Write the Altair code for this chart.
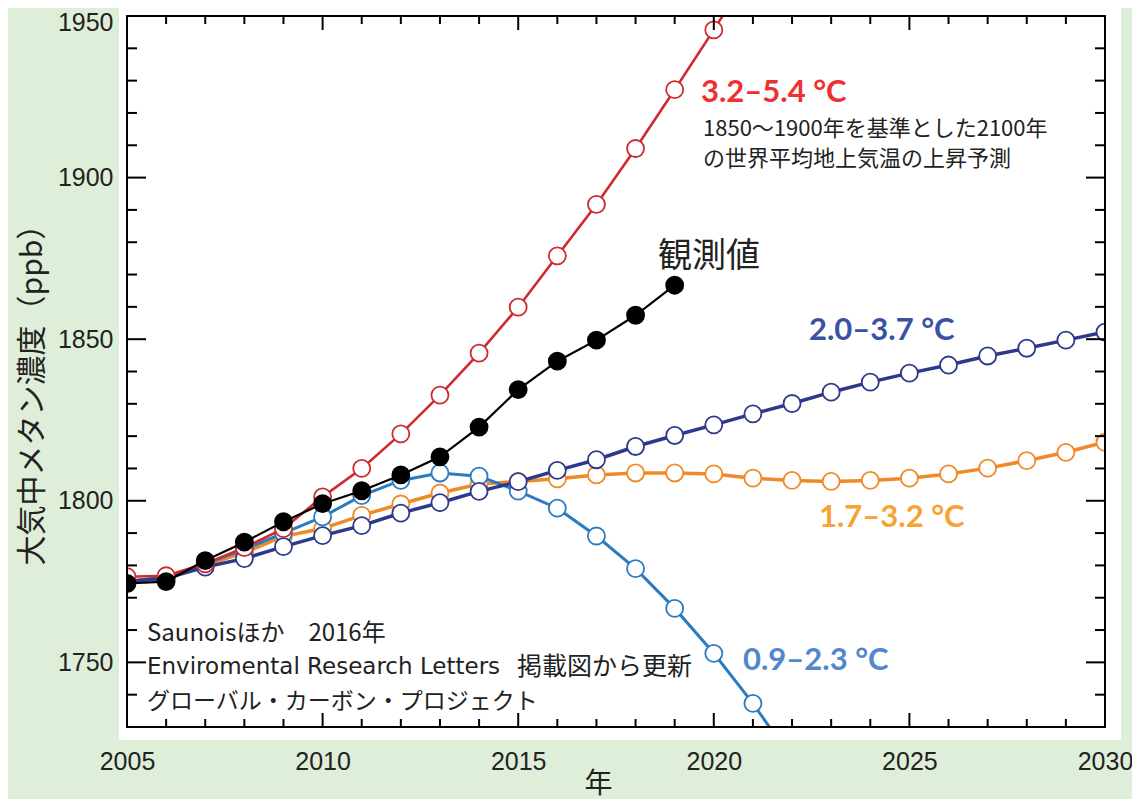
import altair as alt
import pandas as pd

# ---------------- data ----------------
years_obs = list(range(2005, 2020))
obs = [1774.4, 1775.0, 1781.5, 1787.2, 1793.5, 1799.1, 1803.1, 1808.0, 1813.6,
       1822.8, 1834.4, 1843.2, 1849.7, 1857.4, 1866.7]

years_red = list(range(2005, 2022))
red = [1776.5, 1776.8, 1780.5, 1785.5, 1791.4, 1801.2, 1810.0, 1820.7, 1832.7,
       1845.7, 1859.9, 1875.8, 1891.7, 1909.0, 1927.2, 1945.7, 1965.0]

years_navy = list(range(2005, 2031))
navy = [1775.0, 1776.0, 1779.5, 1782.1, 1785.8, 1789.2, 1792.3, 1796.2, 1799.4,
        1802.9, 1805.9, 1809.4, 1812.7, 1816.8, 1820.2, 1823.5, 1826.9, 1830.1,
        1833.6, 1836.7, 1839.5, 1842.0, 1844.8, 1847.2, 1849.7, 1852.2]

years_orange = list(range(2005, 2031))
orange = [1775.0, 1776.0, 1780.0, 1784.0, 1789.0, 1791.4, 1795.5, 1799.0, 1802.4,
          1805.2, 1806.0, 1806.8, 1808.0, 1808.6, 1808.6, 1808.3, 1807.0, 1806.3,
          1806.0, 1806.3, 1807.0, 1808.3, 1810.1, 1812.4, 1815.0, 1818.1]

years_lblue = list(range(2005, 2023))
lblue = [1775.0, 1776.5, 1780.5, 1785.0, 1790.0, 1795.0, 1801.6, 1806.3, 1808.6,
         1807.6, 1803.0, 1797.7, 1789.1, 1779.0, 1766.7, 1752.8, 1737.3, 1720.0]

x_major = [2005, 2010, 2015, 2020, 2025, 2030]
x_minor = [2006, 2007, 2008, 2009, 2011, 2012, 2013, 2014, 2016, 2017, 2018, 2019,
           2021, 2022, 2023, 2024, 2026, 2027, 2028, 2029]
y_major = [1750, 1800, 1850, 1900, 1950]
y_minor = [1740, 1760, 1770, 1780, 1790, 1810, 1820, 1830, 1840, 1860, 1870, 1880,
           1890, 1910, 1920, 1930, 1940]

label_red = "3.2–5.4 °C"
label_navy = "2.0–3.7 °C"
label_orange = "1.7–3.2 °C"
label_lblue = "0.9–2.3 °C"
note1 = "1850〜1900年を基準とした2100年"
note2 = "の世界平均地上気温の上昇予測"
obs_label = "観測値"
src1 = "Saunoisほか　2016年"
src2a = "Enviromental Research Letters"
src2b = "掲載図から更新"
src3 = "グローバル・カーボン・プロジェクト"

# ---------------- style ----------------
W, H = 978, 711
JP = "Noto Sans CJK JP"
NUM = "Liberation Sans"
LAT = "DejaVu Sans"
BOLD = "Lato"
BG = "#DFEED8"
TXT = "#222222"

xs = alt.Scale(domain=[2005, 2030], nice=False, zero=False)
ys = alt.Scale(domain=[1730, 1950], nice=False, zero=False)

xaxis = alt.Axis(values=x_major, format="d", ticks=False, domain=False, grid=False,
                 labelFlush=False, labelOverlap=False,
                 labelFont=NUM, labelFontSize=25, labelColor=TXT, labelPadding=22,
                 title="年", titleFont=JP, titleFontSize=28, titleFontWeight="normal",
                 titleColor=TXT, titleX=471, titleY=57, titleAlign="center",
                 titleBaseline="middle")
yaxis = alt.Axis(values=y_major, format="d", ticks=False, domain=False, grid=False,
                 labelFlush=False, labelOverlap=False,
                 labelFont=NUM, labelFontSize=25, labelColor=TXT, labelPadding=14,
                 labelOffset={"condition": {"test": "datum.value == 1950", "value": 6}, "value": 0},
                 title="大気中メタン濃度（ppb）", titleFont=JP, titleFontSize=30,
                 titleFontWeight="normal", titleColor=TXT, titleAngle=270,
                 titleX=-95, titleY=371, titleAlign="center", titleBaseline="middle")

one = pd.DataFrame({"k": [0]})

panel = alt.Chart(one).mark_rect(fill="white", clip=False).encode(
    x=alt.value(-8), x2=alt.value(W + 16), y=alt.value(-12), y2=alt.value(H + 13))


def series(years, vals, color, lw, filled=False):
    df = pd.DataFrame({"year": years, "ppb": vals})
    b = alt.Chart(df)
    xe = alt.X("year:Q", scale=xs, axis=xaxis)
    ye = alt.Y("ppb:Q", scale=ys, axis=yaxis)
    line = b.mark_line(color=color, strokeWidth=lw, clip=True).encode(x=xe, y=ye)
    pts = b.mark_circle(size=290, opacity=1, clip=True,
                        fill=color if filled else "white",
                        stroke=color, strokeWidth=1.8).encode(x=xe, y=ye)
    return [line, pts]


def xticks(vals, length):
    b = alt.Chart(pd.DataFrame({"year": vals}))
    xe = alt.X("year:Q", scale=xs, axis=xaxis)
    return [
        b.mark_rule(color="black", strokeWidth=2).encode(x=xe, y=alt.value(H), y2=alt.value(H - length)),
        b.mark_rule(color="black", strokeWidth=2).encode(x=xe, y=alt.value(0), y2=alt.value(length)),
    ]


def yticks(vals, length):
    b = alt.Chart(pd.DataFrame({"ppb": vals}))
    ye = alt.Y("ppb:Q", scale=ys, axis=yaxis)
    return [
        b.mark_rule(color="black", strokeWidth=2).encode(y=ye, x=alt.value(0), x2=alt.value(length)),
        b.mark_rule(color="black", strokeWidth=2).encode(y=ye, x=alt.value(W), x2=alt.value(W - length)),
    ]


def label(text, x, y, size, color, weight="normal", font=JP, baseline="alphabetic"):
    return alt.Chart(pd.DataFrame({"t": [text]})).mark_text(
        align="left", baseline=baseline, font=font, fontSize=size,
        fontWeight=weight, color=color).encode(
        x=alt.value(x), y=alt.value(y), text="t:N")


layers = [panel]
layers += series(years_orange, orange, "#F08A26", 3.5)
layers += series(years_lblue, lblue, "#2B7BC0", 3)
layers += series(years_navy, navy, "#2D3A8C", 3.5)
layers += series(years_red, red, "#D02A2F", 2.6)
layers += series(years_obs, obs, "black", 2.2, filled=True)
layers += xticks(x_major, 14) + xticks(x_minor, 8)
layers += yticks(y_major, 19) + yticks(y_minor, 10)

layers += [
    label(label_red, 574, 86, 31, "#EE3030", "bold", BOLD),
    label(note1, 576, 113, 22, TXT, baseline="middle"),
    label(note2, 576, 143, 22, TXT, baseline="middle"),
    label(obs_label, 531, 241, 34, TXT, baseline="middle"),
    label(label_navy, 682, 324, 31, "#3953A4", "bold", BOLD),
    label(label_orange, 692, 511, 31, "#F7A234", "bold", BOLD),
    label(label_lblue, 616, 654, 31, "#5287CC", "bold", BOLD),
    label(src1, 20, 618, 24, TXT, baseline="middle"),
    label(src2a, 20, 651, 23, TXT, font=LAT, baseline="middle"),
    label(src2b, 390, 651, 25, TXT, baseline="middle"),
    label(src3, 20, 686, 23, TXT, baseline="middle"),
]

frame = alt.Chart(one).mark_rect(filled=False, stroke="black", strokeWidth=2, clip=False).encode(
    x=alt.value(0), x2=alt.value(W), y=alt.value(0), y2=alt.value(H))
layers.append(frame)

chart = alt.layer(*layers).properties(
    width=W, height=H,
    padding={"left": 119, "top": 8, "right": 27, "bottom": 72},
    autosize=alt.AutoSizeParams(type="none"),
    background=BG,
).configure_view(strokeWidth=0)

chart.save("out.html", embed_options={"renderer": "svg", "actions": False})
